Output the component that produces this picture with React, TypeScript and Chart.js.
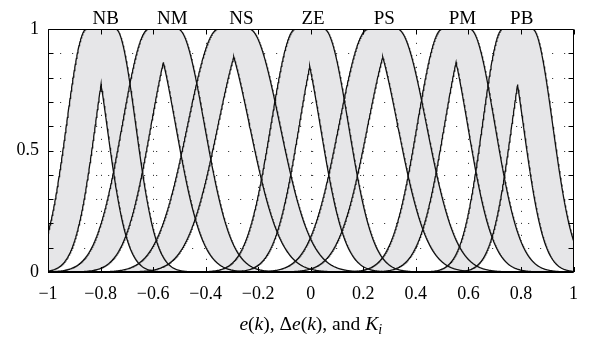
import React, { useEffect, useRef } from 'react';
import { Chart, registerables } from 'chart.js';

Chart.register(...registerables);

// Fuzzy set names and their interval type-2 Gaussian parameters (uncertain mean)
const setNames = ['NB', 'NM', 'NS', 'ZE', 'PS', 'PM', 'PB'];
const setCenters = [-0.798, -0.561, -0.293, -0.004, 0.274, 0.553, 0.787];
const setHalfGaps = [0.055, 0.055, 0.058, 0.054, 0.055, 0.052, 0.056];
const setSpreads = [0.0768, 0.1013, 0.1174, 0.0934, 0.1113, 0.0958, 0.0777];
// x positions of the set labels above the plot
const labelPositions = [-0.78, -0.527, -0.264, 0.009, 0.28, 0.577, 0.803];
// y tick labels shown
const yLabelValues = [0, 0.5, 1];

const FONT = '"Liberation Serif", "Times New Roman", serif';
const FILL = '#e6e6e8';
const LINE = '#111111';

function gauss(x: number, m: number, s: number) {
  return Math.exp(-((x - m) * (x - m)) / (2 * s * s));
}

function buildSet(i: number) {
  const c = setCenters[i];
  const h = setHalfGaps[i];
  const s = setSpreads[i];
  const m1 = c - h;
  const m2 = c + h;
  const xs: number[] = [];
  for (let k = 0; k <= 1000; k++) xs.push(-1 + k * 0.002);
  xs.push(c, m1, m2);
  xs.sort((a, b) => a - b);
  const upper = xs.map((x) => ({
    x,
    y: x < m1 ? gauss(x, m1, s) : x > m2 ? gauss(x, m2, s) : 1,
  }));
  const lower = xs.map((x) => ({ x, y: Math.min(gauss(x, m1, s), gauss(x, m2, s)) }));
  return { upper, lower };
}

function fmtX(v: number) {
  if (Math.abs(v) < 1e-9) return '0';
  const s = Math.abs(v).toFixed(1).replace(/\.0$/, '');
  return v < 0 ? '\u2212' + s : s;
}

function fmtY(v: number) {
  for (const t of yLabelValues) {
    if (Math.abs(v - t) < 1e-9) return String(t);
  }
  return '';
}

const framePlugin = {
  id: 'frame',
  beforeDraw(chart: any) {
    const { ctx, chartArea: a } = chart;
    const xs = chart.scales.x;
    const ys = chart.scales.y;
    ctx.save();
    ctx.strokeStyle = 'rgba(0,0,0,0.75)';
    ctx.lineWidth = 1;
    ctx.setLineDash([1.2, 10.8]);
    xs.ticks.forEach((t: any) => {
      if (t.value <= -1 + 1e-9 || t.value >= 1 - 1e-9) return;
      const px = Math.round(xs.getPixelForValue(t.value)) + 0.5;
      ctx.beginPath();
      ctx.moveTo(px, a.bottom);
      ctx.lineTo(px, a.top);
      ctx.stroke();
    });
    ys.ticks.forEach((t: any) => {
      if (t.value <= 1e-9 || t.value >= 1 - 1e-9) return;
      const py = Math.round(ys.getPixelForValue(t.value)) + 0.5;
      ctx.beginPath();
      ctx.moveTo(a.left, py);
      ctx.lineTo(a.right, py);
      ctx.stroke();
    });
    ctx.restore();
  },
  afterDatasetsDraw(chart: any) {
    const { ctx, chartArea: a } = chart;
    const xs = chart.scales.x;
    const ys = chart.scales.y;
    ctx.save();
    ctx.setLineDash([]);
    ctx.strokeStyle = '#000';
    ctx.lineWidth = 1;
    const L = Math.round(a.left) + 0.5;
    const R = Math.round(a.right) - 0.5;
    const T = Math.round(a.top) + 0.5;
    const B = Math.round(a.bottom);
    ctx.beginPath();
    ctx.moveTo(L, B);
    ctx.lineTo(L, T);
    ctx.lineTo(R, T);
    ctx.lineTo(R, B);
    ctx.stroke();
    ctx.lineWidth = 2.2;
    ctx.beginPath();
    ctx.moveTo(a.left, B);
    ctx.lineTo(a.right, B);
    ctx.stroke();
    ctx.lineWidth = 1;
    const tl = 5;
    xs.ticks.forEach((t: any) => {
      const px = Math.round(xs.getPixelForValue(t.value)) + 0.5;
      ctx.beginPath();
      ctx.moveTo(px, B);
      ctx.lineTo(px, B - tl);
      ctx.moveTo(px, T);
      ctx.lineTo(px, T + tl);
      ctx.stroke();
    });
    ys.ticks.forEach((t: any) => {
      const py = Math.round(ys.getPixelForValue(t.value)) + 0.5;
      ctx.beginPath();
      ctx.moveTo(L, py);
      ctx.lineTo(L + tl, py);
      ctx.moveTo(R, py);
      ctx.lineTo(R - tl, py);
      ctx.stroke();
    });
    ctx.restore();
  },
  afterDraw(chart: any) {
    const { ctx, chartArea: a } = chart;
    const xs = chart.scales.x;
    ctx.save();
    ctx.fillStyle = '#000';
    ctx.textAlign = 'center';
    ctx.textBaseline = 'alphabetic';
    ctx.font = `19px ${FONT}`;
    setNames.forEach((n, i) => {
      ctx.fillText(n, xs.getPixelForValue(labelPositions[i]), 23.5);
    });
    // axis title with mixed italic
    const size = 19.5;
    const segs: { t: string; it: boolean; sub?: boolean }[] = [
      { t: 'e', it: true },
      { t: '(', it: false },
      { t: 'k', it: true },
      { t: '), \u0394', it: false },
      { t: 'e', it: true },
      { t: '(', it: false },
      { t: 'k', it: true },
      { t: '), and ', it: false },
      { t: 'K', it: true },
      { t: 'i', it: true, sub: true },
    ];
    const fontFor = (sg: any) => `${sg.it ? 'italic ' : ''}${sg.sub ? 14 : size}px ${FONT}`;
    let total = 0;
    segs.forEach((sg) => {
      ctx.font = fontFor(sg);
      total += ctx.measureText(sg.t).width;
    });
    let x = (a.left + a.right) / 2 - total / 2;
    const base = 330;
    ctx.textAlign = 'left';
    segs.forEach((sg) => {
      ctx.font = fontFor(sg);
      ctx.fillText(sg.t, x, sg.sub ? base + 4 : base);
      x += ctx.measureText(sg.t).width;
    });
    ctx.restore();
  },
};

export default function App() {
  const ref = useRef<HTMLCanvasElement | null>(null);
  useEffect(() => {
    if (!ref.current) return;
    const datasets: any[] = [];
    setNames.forEach((name, i) => {
      const { upper, lower } = buildSet(i);
      datasets.push({
        label: name + ' upper',
        data: upper,
        borderColor: LINE,
        borderWidth: 1.3,
        backgroundColor: FILL,
        fill: '+1',
        pointRadius: 0,
        tension: 0,
      });
      datasets.push({
        label: name + ' lower',
        data: lower,
        borderColor: LINE,
        borderWidth: 1.3,
        backgroundColor: FILL,
        fill: false,
        pointRadius: 0,
        tension: 0,
      });
    });
    const chart = new Chart(ref.current, {
      type: 'line',
      data: { datasets },
      options: {
        animation: false,
        responsive: false,
        maintainAspectRatio: false,
        events: [],
        layout: { padding: { left: 8, right: 12, top: 29, bottom: 0 } },
        plugins: {
          legend: { display: false },
          tooltip: { enabled: false },
          filler: { drawTime: 'beforeDatasetsDraw', propagate: false },
        },
        scales: {
          x: {
            type: 'linear',
            min: -1,
            max: 1,
            ticks: {
              stepSize: 0.2,
              autoSkip: false,
              maxRotation: 0,
              padding: 11,
              color: '#000',
              font: { family: FONT, size: 18 },
              callback: (v: any) => fmtX(Number(v)),
            },
            grid: { display: false, drawTicks: false },
            border: { display: false },
            afterFit: (s: any) => {
              s.height = 66;
            },
          },
          y: {
            type: 'linear',
            min: 0,
            max: 1,
            ticks: {
              stepSize: 0.1,
              autoSkip: false,
              padding: 9,
              color: '#000',
              font: { family: FONT, size: 18 },
              callback: (v: any) => fmtY(Number(v)),
            },
            grid: { display: false, drawTicks: false },
            border: { display: false },
            afterFit: (s: any) => {
              s.width = 40;
            },
          },
        },
      } as any,
      plugins: [framePlugin],
    });
    return () => chart.destroy();
  }, []);
  return (
    <div style={{ position: 'fixed', left: 0, top: 0, width: 589, height: 338, background: '#fff' }}>
      <canvas ref={ref} width={589} height={338} style={{ display: 'block' }} />
    </div>
  );
}
